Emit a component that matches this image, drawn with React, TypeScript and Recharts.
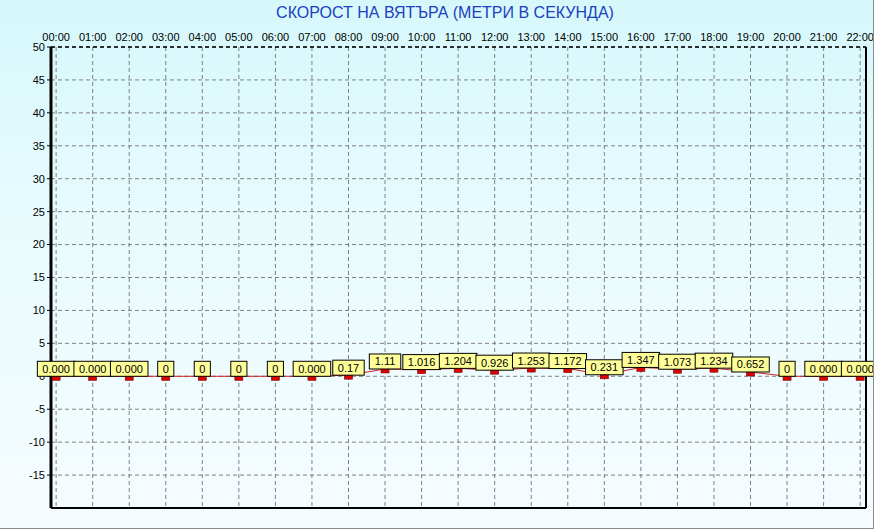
import { ComposedChart, Line, XAxis, YAxis, CartesianGrid, ReferenceLine, LabelList } from 'recharts';

const HOURS = [0, 1, 2, 3, 4, 5, 6, 7, 8, 9, 10, 11, 12, 13, 14, 15, 16, 17, 18, 19, 20, 21, 22];
const SPEED = [0, 0, 0, 0, 0, 0, 0, 0, 0.17, 1.11, 1.016, 1.204, 0.926, 1.253, 1.172, 0.231, 1.347, 1.073, 1.234, 0.652, 0, 0, 0];
const VALUE_LABELS = [
  '0.000', '0.000', '0.000', '0', '0', '0', '0', '0.000', '0.17', '1.11', '1.016', '1.204',
  '0.926', '1.253', '1.172', '0.231', '1.347', '1.073', '1.234', '0.652', '0', '0.000', '0.000',
];
const Y_TICKS = [-15, -10, -5, 0, 5, 10, 15, 20, 25, 30, 35, 40, 45, 50];
const TITLE = 'СКОРОСТ НА ВЯТЪРА (МЕТРИ В СЕКУНДА)';

const FONT = '"Liberation Sans", Arial, sans-serif';

const data = HOURS.map((h, i) => ({ h, v: SPEED[i], t: VALUE_LABELS[i] }));

const hourLabel = (h: number) => `${String(h).padStart(2, '0')}:00`;

// rough width of 11px Arial digits
function textWidth(s: string) {
  let w = 0;
  for (const ch of s) w += ch === '.' ? 3.06 : 6.12;
  return w;
}

function ValueBox(props: any) {
  const { x, y, value } = props;
  if (x == null || y == null) return null;
  const w = textWidth(String(value)) + 10;
  const h = 15;
  return (
    <g>
      <rect x={x - w / 2} y={y - h} width={w} height={h} fill="#ffff99" stroke="#000" strokeWidth={1} />
      <text x={x} y={y - 3.5} textAnchor="middle" fontSize={11} fontFamily={FONT} fill="#000">{value}</text>
    </g>
  );
}

export default function App() {
  return (
    <div style={{
      position: 'fixed', left: 0, top: 0, width: 874, height: 529, boxSizing: 'border-box',
      borderRight: '1px solid #8c8c8c', borderBottom: '1px solid #8c8c8c',
      background: 'linear-gradient(to bottom, #d6f8fb 0%, #e8fbfd 45%, #f6fcff 100%)',
      fontFamily: FONT,
    }}>
      <div style={{ position: 'absolute', left: 0, top: 4, width: 890, textAlign: 'center', color: '#2040c0', fontSize: 16 }}>
        {TITLE}
      </div>
      <ComposedChart width={873} height={528} data={data} margin={{ top: 27, right: 7, bottom: 20, left: 11 }}>
        <CartesianGrid stroke="#808080" strokeDasharray="4 3" verticalValues={HOURS} />
        <XAxis
          dataKey="h" type="number" orientation="top" domain={[-0.14, 22.16]} ticks={HOURS}
          tickFormatter={hourLabel} interval={0} height={20} axisLine={false} tickLine={false}
          tickSize={0} tickMargin={6} tick={{ fontSize: 11, fill: '#000', fontFamily: FONT }}
        />
        <YAxis
          type="number" domain={[-20, 50]} ticks={Y_TICKS} width={40} interval={0}
          axisLine={{ stroke: '#000', strokeWidth: 3 }} tickLine={{ stroke: '#000' }} tickSize={4}
          tick={{ fontSize: 11, fill: '#000', fontFamily: FONT }}
        />
        <ReferenceLine y={50} stroke="#000" strokeDasharray="4 3" strokeWidth={1.5} />
        <ReferenceLine y={-20} stroke="#000" strokeWidth={2} />
        <ReferenceLine x={22.16} stroke="#000" strokeWidth={2} />
        <Line
          dataKey="v" stroke="#cc2020" strokeWidth={1} isAnimationActive={false}
          dot={(p: any) => (
            <rect key={p.index} x={p.cx - 4} y={p.cy - 1} width={8} height={5} fill="#dd0000" stroke="#7a0000" strokeWidth={0.6} />
          )}
          activeDot={false}
        >
          <LabelList dataKey="t" content={ValueBox} />
        </Line>
      </ComposedChart>
    </div>
  );
}
